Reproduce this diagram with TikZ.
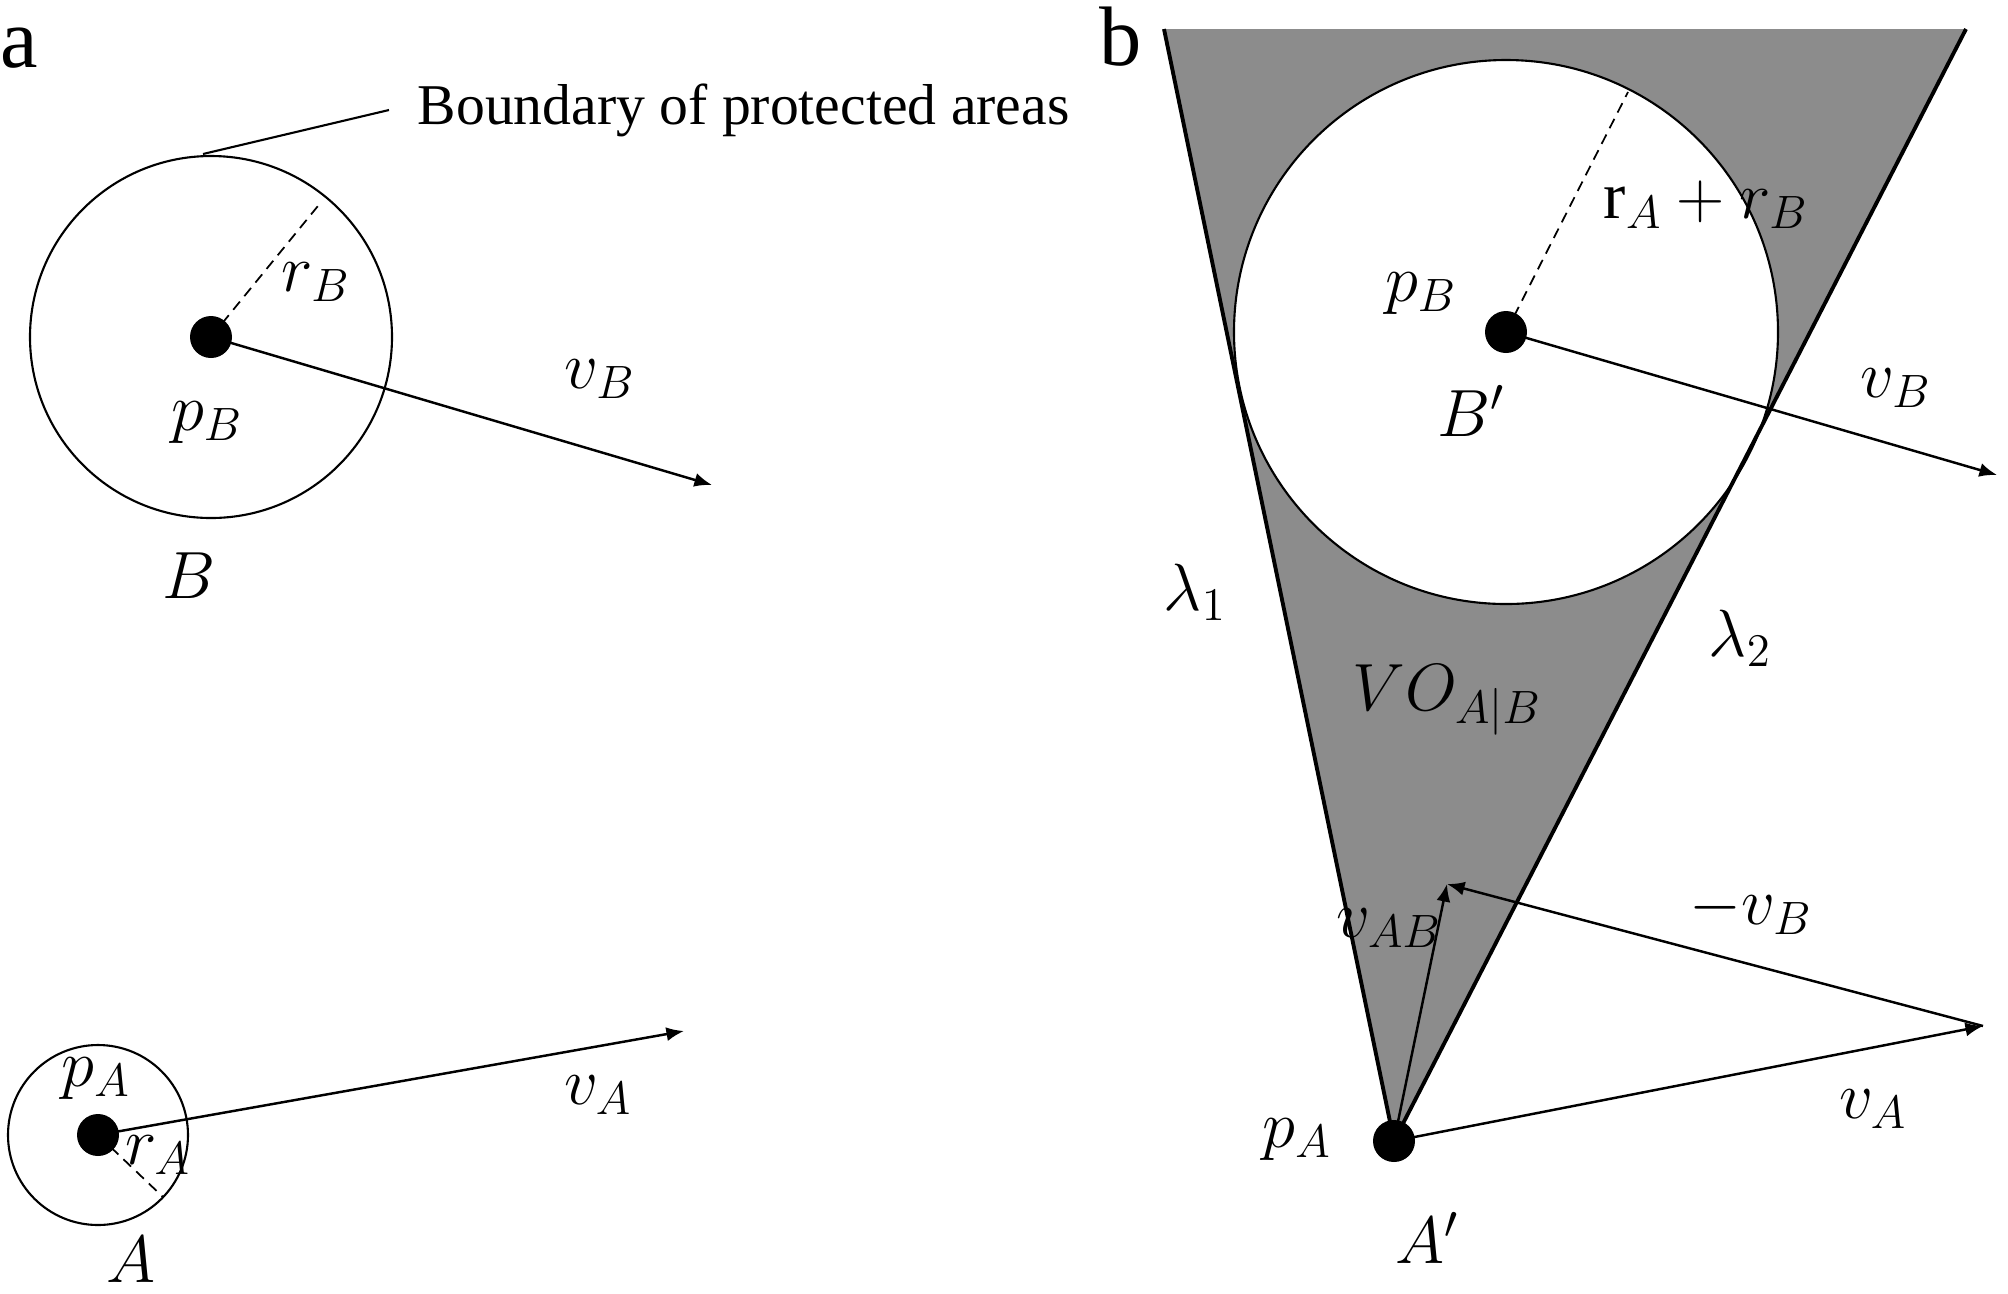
\documentclass[tikz,border=0pt]{standalone}
\usepackage{fix-cm}
\usepackage{fontspec}
\setmainfont{Liberation Serif}
\usetikzlibrary{arrows.meta}
\tikzset{
  vec/.style={-{Latex[length=5pt,width=4pt]}, line width=0.7pt},
  lbl/.style={font=\fontsize{19}{22}\selectfont, inner sep=0pt},
  panel/.style={font=\fontsize{24}{28}\selectfont, inner sep=0pt},
  rim/.style={line width=0.6pt},
  radius line/.style={dashed, line width=0.5pt, dash pattern=on 3pt off 2pt},
  edge/.style={line width=1.1pt}
}
\colorlet{voshade}{black!45}
\begin{document}
\begin{tikzpicture}[x=0.01cm, y=-0.01cm]
  \useasboundingbox (0,0) rectangle (2008,1293);

  % panel a
  \node[panel] (la) at (19,48) {a};

  \coordinate (B) at (211,337);
  \draw[rim] (B) circle (181);
  \coordinate (rimB) at (322,201);
  \draw[radius line] (B) -- (rimB);
  \coordinate (vB) at (712,485);
  \draw[vec] (B) -- (vB);
  \fill (B) circle (21);
  \node[lbl] (rB) at (316,282) {$r_B$};
  \node[lbl] (pB) at (207,423) {$p_B$};
  \node[lbl] (vBl) at (600,379) {$v_B$};
  \node[lbl] (nB) at (189,576) {$B$};

  \coordinate (topB) at (203,154);
  \coordinate (lead) at (389,110);
  \draw[line width=0.6pt] (topB) -- (lead);
  \node[anchor=base west, inner sep=0pt, font=\fontsize{16.4}{19}\selectfont] (bnd) at (417,124) {Boundary of protected areas};

  \coordinate (A) at (98,1135);
  \draw[rim] (A) circle (90);
  \coordinate (rimA) at (163,1197);
  \draw[radius line] (A) -- (rimA);
  \coordinate (vA) at (684,1031);
  \draw[vec] (A) -- (vA);
  \fill (A) circle (21);
  \node[lbl] (pA) at (96,1079) {$p_A$};
  \node[lbl] (rA) at (158,1155) {$r_A$};
  \node[lbl] (vAl) at (598,1095) {$v_A$};
  \node[lbl] (nA) at (131,1260) {$A$};

  % panel b
  \node[panel] (lb) at (1121,37) {b};

  \coordinate (A') at (1394,1141);
  \coordinate (L1) at (1164,29);
  \coordinate (L2) at (1966,29);
  \coordinate (B') at (1506,332);
  \fill[voshade] (A') -- (L1) -- (L2) -- cycle;
  \filldraw[rim, fill=white] (B') circle (272);
  \draw[edge] (L1) -- (A') -- (L2);

  \coordinate (rimBB) at (1628,92);
  \draw[radius line] (B') -- (rimBB);
  \coordinate (vB') at (1997,475);
  \draw[vec] (B') -- (vB');
  \fill (B') circle (21);

  \coordinate (vAB) at (1447,884);
  \coordinate (vA') at (1983,1026);
  \draw[vec] (A') -- (vA');
  \draw[vec] (vA') -- (vAB);
  \draw[vec] (A') -- (vAB);
  \fill (A') circle (21);

  \node[lbl] (rsum) at (1706,205) {$\mathrm{r}_A + r_B$};
  \node[lbl] (pB') at (1421,294) {$p_B$};
  \node[lbl] (nB') at (1471,411) {$B'$};
  \node[lbl] (vBl') at (1896,388) {$v_B$};
  \node[lbl] (lam1) at (1195,592) {$\lambda_1$};
  \node[lbl] (lam2) at (1740,638) {$\lambda_2$};
  \node[lbl] (vo) at (1447,700) {$VO_{A|B}$};
  \node[lbl] (vABl) at (1389,928) {$v_{AB}$};
  \node[lbl] (mvB) at (1751,910) {$-v_B$};
  \node[lbl] (vAl') at (1873,1109) {$v_A$};
  \node[lbl] (pA') at (1297,1140) {$p_A$};
  \node[lbl] (nA') at (1427,1238) {$A'$};
\end{tikzpicture}
\end{document}
